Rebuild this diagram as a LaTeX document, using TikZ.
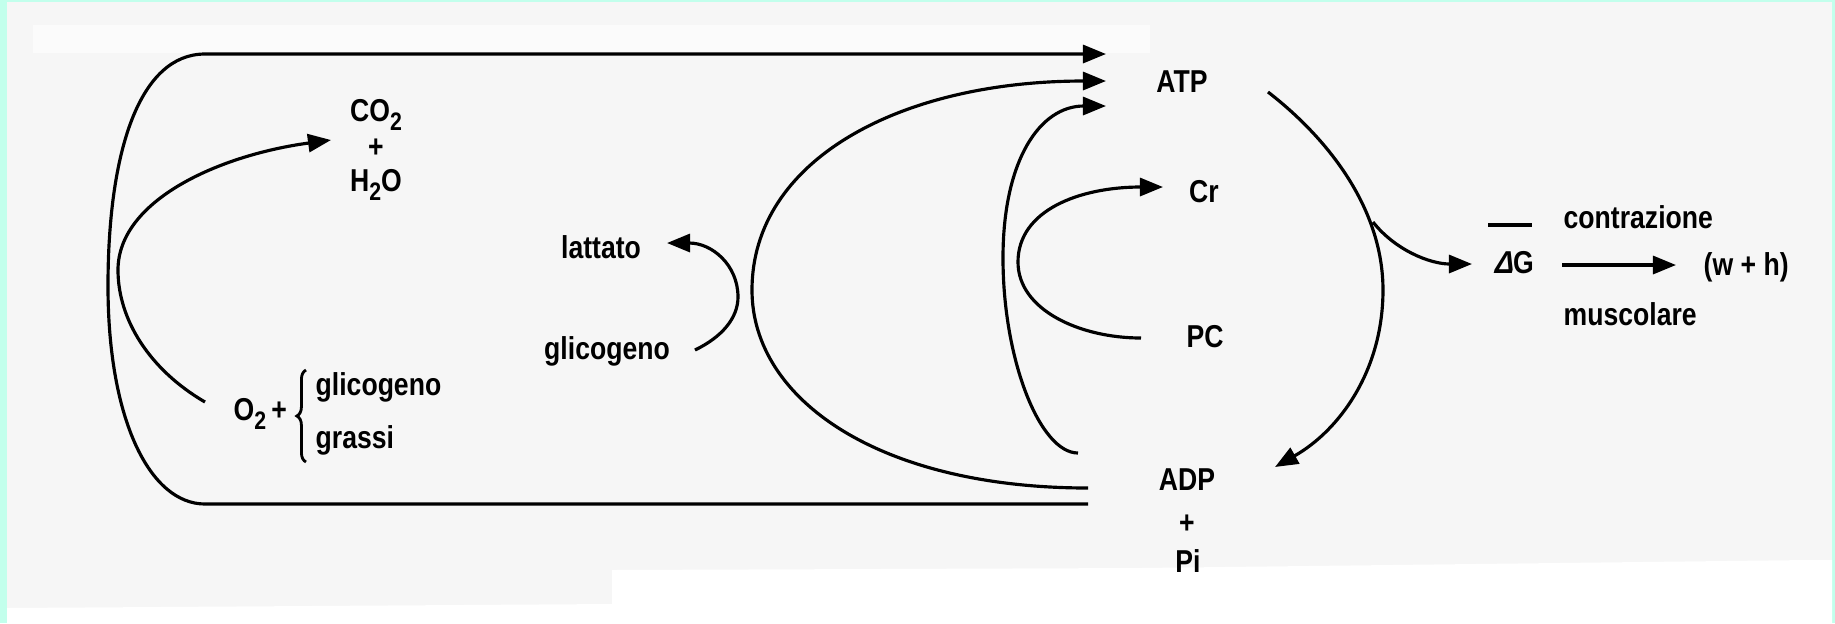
\documentclass[tikz,border=0pt]{standalone}
\usepackage{fontspec}
\setmainfont{Liberation Sans}[FakeStretch=0.84]
\newfontfamily\deltafont{Liberation Sans}[FakeSlant=0.25,FakeStretch=0.9]
\usetikzlibrary{arrows.meta,decorations.pathreplacing}
\definecolor{bgcyan}{HTML}{C2FFEC}
\definecolor{paper}{HTML}{F6F6F6}
\newcommand{\subtwo}{\raisebox{-0.55ex}{\fontsize{7.2}{8}\selectfont 2}}
\begin{document}
\begin{tikzpicture}[x=0.01cm,y=-0.01cm,
  lbl/.style={font=\fontsize{9}{11}\selectfont\bfseries, inner sep=0pt},
  conn/.style={line width=0.9pt},
  arr/.style={conn,-{Triangle[length=0.23cm,width=0.18cm]}}]
% background
\fill[bgcyan] (0,0) rectangle (1835,623);
\fill[paper] (7,2) rectangle (1832,623);
\fill[white!60!paper] (33,25) rectangle (1150,53);
\fill[white] (7,623) -- (7,608) -- (612,604) -- (612,570) -- (1140,568) -- (1809,560) -- (1832,560) -- (1832,623) -- cycle;
\useasboundingbox (0,0) rectangle (1835,623);
% labels
\node[lbl,anchor=base] (atp) at (1182,92) {ATP};
\node[lbl,anchor=base] (cr) at (1204,202) {Cr};
\node[lbl,anchor=base] (pc) at (1205,347) {PC};
\node[lbl,anchor=base] (adp) at (1187,490) {ADP};
\node[lbl] (plus2) at (1187,524) {+};
\node[lbl,anchor=base] (pi) at (1188,572) {Pi};
\node[lbl,anchor=base] (co2) at (376,121) {CO\subtwo};
\node[lbl] (plus1) at (376,148) {+};
\node[lbl,anchor=base] (h2o) at (376,191) {H\subtwo O};
\node[lbl,anchor=base] (latt) at (601,258) {lattato};
\node[lbl,anchor=base] (glic) at (607,359) {glicogeno};
\node[lbl,anchor=base west] (o2) at (233,420) {O\subtwo\,+};
\node[lbl,anchor=base west] (glic2) at (315,395) {glicogeno};
\node[lbl,anchor=base west] (grassi) at (315,448) {grassi};
\node[lbl,anchor=base west] (dg) at (1492,273) {{\deltafont Δ}G};
\node[lbl,anchor=base west] (contr) at (1563,228) {contrazione};
\node[lbl,anchor=base west] (musc) at (1563,325) {muscolare};
\node[lbl,anchor=base west] (wh) at (1703,275) {(w + h)};
% connector ends
\coordinate (in1) at (1106,54);
\coordinate (in2) at (1106,81);
\coordinate (in3) at (1106,106);
\coordinate (outerS) at (1088,504);
\coordinate (midS) at (1088,488);
\coordinate (innS) at (1078,453);
\coordinate (pcL) at (1141,338);
\coordinate (crIn) at (1163,187);
\coordinate (glR) at (695,350);
\coordinate (latIn) at (667,243);
\coordinate (o2L) at (205,402);
\coordinate (co2In) at (331,140);
\coordinate (atpR) at (1268,92);
\coordinate (adpIn) at (1275,467);
\coordinate (br) at (1373,222);
\coordinate (dgIn) at (1472,264);
\coordinate (dgR) at (1562,265);
\coordinate (whIn) at (1676,265);
% connectors
\draw[arr] (outerS) -- (205,504) .. controls (150,504) and (108,420) .. (108,286) .. controls (108,150) and (140,54) .. (205,54) -- (in1);
\draw[arr] (midS) .. controls (880,488) and (752,400) .. (752,290) .. controls (752,160) and (900,81) .. (in2);
\draw[arr] (innS) .. controls (1040,453) and (1003,360) .. (1003,258) .. controls (1003,160) and (1040,106) .. (in3);
\draw[arr] (pcL) .. controls (1080,338) and (1018,310) .. (1018,262) .. controls (1018,210) and (1080,187) .. (crIn);
\draw[arr] (glR) .. controls (722,337) and (738,318) .. (738,297) .. controls (738,265) and (712,243) .. (latIn);
\draw[arr] (o2L) .. controls (150,370) and (118,320) .. (118,270) .. controls (118,200) and (220,155) .. (co2In);
\draw[arr] (atpR) .. controls (1330,140) and (1383,210) .. (1383,290) .. controls (1383,370) and (1340,430) .. (adpIn);
\draw[arr] (br) .. controls (1395,250) and (1430,264) .. (dgIn);
\draw[arr] (dgR) -- (whIn);
% overbar of Delta G and brace
\draw[line width=1pt] (1488,225) -- (1532,225);
\draw[line width=0.8pt, decorate, decoration={brace,amplitude=2.6pt}] (306,462) -- (306,370);
\end{tikzpicture}
\end{document}
